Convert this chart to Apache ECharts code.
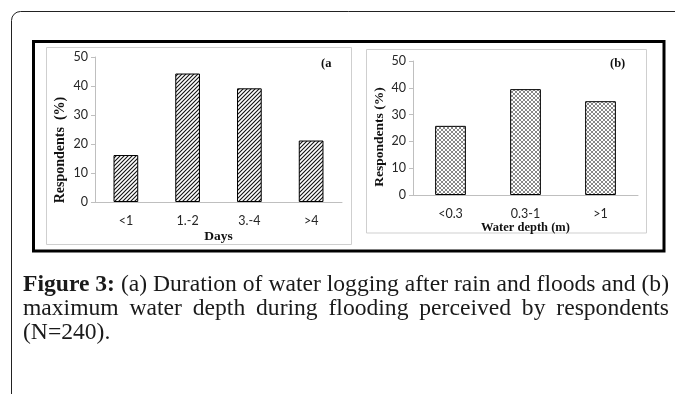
<!DOCTYPE html>
<html>
<head>
<meta charset="utf-8">
<script src="https://cdn.jsdelivr.net/npm/echarts@6/dist/echarts.min.js"></script>
<style>
html,body{margin:0;padding:0;background:#fff;}
#chart{width:675px;height:394px;}
</style>
</head>
<body>
<div id="chart"></div>
<script>
// ---- data ----
const daysCategories = ['<1', '1.-2', '3.-4', '>4'];
const daysValues = [16.2, 44.3, 39.2, 21.2];
const depthCategories = ['<0.3', '0.3-1', '>1'];
const depthValues = [25.8, 39.5, 35.0];
const yTicks = [0, 10, 20, 30, 40, 50];
const captionLine1 = ['(a)', 'Duration', 'of', 'water', 'logging', 'after', 'rain', 'and', 'floods', 'and', '(b)'];
const captionLine2 = ['maximum', 'water', 'depth', 'during', 'flooding', 'perceived', 'by', 'respondents'];
const captionLine3 = '(N=240).';

// ---- patterns ----
function hatchPattern() {
  const c = document.createElement('canvas');
  c.width = 4; c.height = 4;
  const g = c.getContext('2d');
  g.fillStyle = '#fff'; g.fillRect(0, 0, 4, 4);
  g.strokeStyle = '#111'; g.lineWidth = 1.1;
  g.beginPath();
  g.moveTo(-1, 5); g.lineTo(5, -1);
  g.moveTo(-3, 3); g.lineTo(3, -3);
  g.moveTo(1, 7); g.lineTo(7, 1);
  g.stroke();
  return c;
}
function crossPattern() {
  const c = document.createElement('canvas');
  c.width = 4; c.height = 4;
  const g = c.getContext('2d');
  g.fillStyle = '#fff'; g.fillRect(0, 0, 4, 4);
  g.strokeStyle = '#555'; g.lineWidth = 0.7;
  g.beginPath();
  for (let k = -8; k <= 8; k += 4) {
    g.moveTo(k, 0); g.lineTo(k + 4, 4);
    g.moveTo(k, 4); g.lineTo(k + 4, 0);
  }
  g.stroke();
  return c;
}

// ---- caption layout ----
const SERIF = '"Liberation Serif", "Times New Roman", serif';
const mctx = document.createElement('canvas').getContext('2d');
function tw(text, size, bold) {
  mctx.font = (bold ? 'bold ' : '') + size + 'px ' + SERIF;
  return mctx.measureText(text).width;
}
const capL = 23, capR = 669;
const base = 20;
const natural = tw('Figure 3:', base, true) + tw(' ' + captionLine1.join(' '), base, false);
const fs = base * (capR - capL) / natural;

function justified(items, y) {
  const widths = items.map(it => tw(it.text, fs, it.bold));
  const sum = widths.reduce((a, b) => a + b, 0);
  const gap = (capR - capL - sum) / (items.length - 1);
  let x = capL;
  return items.map((it, i) => {
    const el = {
      type: 'text', x: x, y: y,
      style: { text: it.text, font: (it.bold ? 'bold ' : '') + fs + 'px ' + SERIF, fill: '#1a1a1a', verticalAlign: 'middle' }
    };
    x += widths[i] + gap;
    return el;
  });
}
const line1Items = [{ text: 'Figure 3:', bold: true }].concat(captionLine1.map(t => ({ text: t, bold: false })));
const line2Items = captionLine2.map(t => ({ text: t, bold: false }));

const captionEls = [].concat(
  justified(line1Items, 285),
  justified(line2Items, 309),
  [{ type: 'text', x: capL, y: 333, style: { text: captionLine3, font: fs + 'px ' + SERIF, fill: '#1a1a1a', verticalAlign: 'middle' } }]
);

const chart = echarts.init(document.getElementById('chart'), null, { renderer: 'canvas' });

const tickLabel = { color: '#262626', fontFamily: 'Lato, "Open Sans", sans-serif', fontSize: 12.5 };
const axisNameStyle = { fontFamily: SERIF, fontWeight: 'bold', color: '#111', fontSize: 13.5 };

const option = {
  animation: false,
  backgroundColor: '#fff',
  grid: [
    { left: 95, right: 333, top: 57, bottom: 192 },
    { left: 413, right: 37, top: 61, bottom: 199 }
  ],
  xAxis: [
    {
      gridIndex: 0, type: 'category', data: daysCategories,
      name: 'Days', nameLocation: 'middle', nameGap: 28, nameTextStyle: axisNameStyle,
      axisLine: { lineStyle: { color: '#bfbfbf' } }, axisTick: { show: false },
      axisLabel: Object.assign({ margin: 12 }, tickLabel)
    },
    {
      gridIndex: 1, type: 'category', data: depthCategories,
      name: 'Water depth (m)', nameLocation: 'middle', nameGap: 25,
      nameTextStyle: Object.assign({}, axisNameStyle, { fontSize: 12.5 }),
      axisLine: { lineStyle: { color: '#bfbfbf' } }, axisTick: { show: false },
      axisLabel: Object.assign({ margin: 12 }, tickLabel)
    }
  ],
  yAxis: [
    {
      gridIndex: 0, type: 'value', min: yTicks[0], max: yTicks[yTicks.length - 1], interval: 10,
      axisLine: { show: true, lineStyle: { color: '#bfbfbf' } },
      axisTick: { show: true, length: 4, lineStyle: { color: '#bfbfbf' } },
      splitLine: { show: false },
      axisLabel: Object.assign({ margin: 7 }, tickLabel)
    },
    {
      gridIndex: 1, type: 'value', min: yTicks[0], max: yTicks[yTicks.length - 1], interval: 10,
      axisLine: { show: true, lineStyle: { color: '#bfbfbf' } },
      axisTick: { show: true, length: 4, lineStyle: { color: '#bfbfbf' } },
      splitLine: { show: false },
      axisLabel: Object.assign({ margin: 7 }, tickLabel)
    }
  ],
  series: [
    {
      type: 'bar', xAxisIndex: 0, yAxisIndex: 0, data: daysValues, barWidth: '40%',
      itemStyle: { color: { image: hatchPattern(), repeat: 'repeat' }, borderColor: '#000', borderWidth: 1 }
    },
    {
      type: 'bar', xAxisIndex: 1, yAxisIndex: 1, data: depthValues, barWidth: '41%',
      itemStyle: { color: { image: crossPattern(), repeat: 'repeat' }, borderColor: '#000', borderWidth: 1 }
    }
  ],
  graphic: [
    { type: 'rect', z: 0, shape: { x: 11.5, y: 11.5, width: 720, height: 500, r: 9 }, style: { fill: 'none', stroke: '#222', lineWidth: 1 } },
    { type: 'rect', z: 0, shape: { x: 33.5, y: 41.5, width: 630.5, height: 209.5 }, style: { fill: 'none', stroke: '#000', lineWidth: 3 } },
    { type: 'rect', z: 0, shape: { x: 46.5, y: 47.5, width: 305, height: 197 }, style: { fill: 'none', stroke: '#cfcfcf', lineWidth: 1 } },
    { type: 'rect', z: 0, shape: { x: 366.5, y: 49.5, width: 280, height: 183.5 }, style: { fill: 'none', stroke: '#cfcfcf', lineWidth: 1 } },
    { type: 'text', x: 321, y: 64, style: { text: '(a', font: 'bold 12.5px ' + SERIF, fill: '#111', verticalAlign: 'middle' } },
    { type: 'text', x: 610, y: 64, style: { text: '(b)', font: 'bold 12.5px ' + SERIF, fill: '#111', verticalAlign: 'middle' } },
    { type: 'text', x: 60, y: 150, rotation: Math.PI / 2, style: { text: 'Respondents  (%)', font: 'bold 14px ' + SERIF, fill: '#111', align: 'center', verticalAlign: 'middle' } },
    { type: 'text', x: 380, y: 137, rotation: Math.PI / 2, style: { text: 'Respondents (%)', font: 'bold 13.5px ' + SERIF, fill: '#111', align: 'center', verticalAlign: 'middle' } }
  ].concat(captionEls)
};
chart.setOption(option);
</script>
</body>
</html>
